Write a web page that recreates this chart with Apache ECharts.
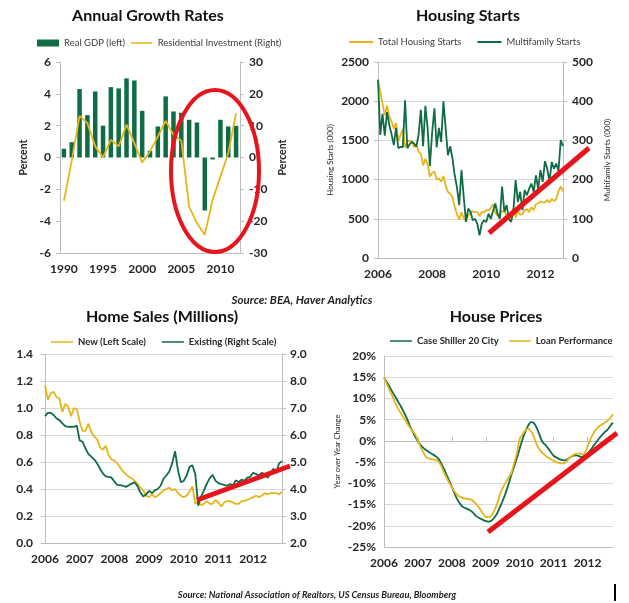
<!DOCTYPE html>
<html>
<head>
<meta charset="utf-8">
<script src="https://cdn.jsdelivr.net/npm/echarts@6/dist/echarts.min.js"></script>
<style>
  html, body { margin: 0; padding: 0; background: #fff; }
  #main { width: 629px; height: 603px; }
</style>
</head>
<body>
<div id="main"></div>
<script>
var green = '#0f6c45';
var gold = '#e6b51a';
var axisGray = '#bdbdbd';
var gridGray = '#d9d9d9';
var red = '#e8141c';
var font = 'Lato, "Open Sans", sans-serif';

// annual growth rates (percent)
var years = ['1990', '1991', '1992', '1993', '1994', '1995', '1996', '1997', '1998', '1999', '2000', '2001',
  '2002', '2003', '2004', '2005', '2006', '2007', '2008', '2009', '2010', '2011', '2012'];
var realGdp = [0.55, 0.96, 4.3, 2.66, 4.15, 2.0, 4.42, 4.34, 4.97, 4.84, 2.93, 0.42,
  1.95, 3.84, 2.89, 2.81, 2.37, 2.2, -3.33, -0.12, 2.37, 1.95, 1.99];
var resInvest = [-13.6, -1.0, 13.1, 10.8, 3.5, 0.1, 5.5, 3.5, 10.3, 4.5, -1.6, 1.9,
  6.6, 11.5, 7.1, 5.3, -15.4, -20.6, -24.3, -13.3, -6.0, 1.4, 13.9];

// housing starts (000), Jan 2006 - Nov 2012
var totalStarts = [2273, 2119, 1969, 1821, 1942, 1802, 1737, 1650, 1720, 1491, 1570, 1649,
  1409, 1480, 1495, 1490, 1415, 1448, 1354, 1330, 1183, 1264, 1197, 1037,
  1084, 1103, 1005, 1013, 973, 1046, 923, 844, 820, 777, 652, 560,
  490, 582, 505, 478, 540, 585, 594, 586, 585, 534, 588, 581,
  614, 605, 634, 687, 583, 536, 546, 599, 594, 543, 545, 539,
  630, 517, 600, 554, 561, 608, 623, 585, 650, 610, 685, 699,
  720, 710, 707, 743, 708, 754, 728, 749, 854, 915, 851];
var multiStarts = [455, 314, 368, 312, 372, 340, 316, 288, 332, 280, 284, 282,
  402, 280, 290, 296, 292, 284, 315, 378, 285, 388, 330, 235,
  320, 382, 282, 332, 296, 400, 330, 262, 285, 254, 211, 180,
  135, 224, 156, 92, 126, 118, 96, 100, 88, 58, 88, 96,
  92, 113, 100, 120, 139, 113, 100, 182, 118, 135, 100, 92,
  120, 199, 143, 169, 122, 173, 160, 177, 190, 169, 211, 177,
  224, 194, 247, 228, 194, 245, 228, 241, 222, 301, 285];

// home sales (millions), Jan 2006 - Nov 2012
var newSales = [1.17, 1.06, 1.11, 1.12, 1.08, 1.07, 0.97, 1.03, 1.01, 0.94, 1.00, 0.99,
  0.90, 0.83, 0.83, 0.885, 0.82, 0.79, 0.77, 0.71, 0.69, 0.72, 0.65, 0.62,
  0.61, 0.59, 0.56, 0.53, 0.51, 0.49, 0.48, 0.46, 0.44, 0.41, 0.39, 0.35,
  0.34, 0.36, 0.34, 0.35, 0.37, 0.39, 0.40, 0.41, 0.39, 0.40, 0.37, 0.35,
  0.34, 0.35, 0.38, 0.42, 0.29, 0.31, 0.28, 0.29, 0.31, 0.29, 0.29, 0.32,
  0.30, 0.27, 0.30, 0.31, 0.31, 0.30, 0.29, 0.29, 0.31, 0.31, 0.32, 0.33,
  0.34, 0.35, 0.34, 0.35, 0.37, 0.36, 0.37, 0.37, 0.37, 0.36, 0.38];
var existingSales = [6.70, 6.82, 6.82, 6.74, 6.61, 6.55, 6.43, 6.33, 6.30, 6.31, 6.30, 6.35,
  5.80, 5.75, 5.50, 5.30, 5.20, 5.10, 4.95, 4.76, 4.58, 4.47, 4.45, 4.42,
  4.28, 4.15, 4.14, 4.12, 4.08, 4.14, 4.20, 4.25, 4.10, 3.88, 3.72, 3.80,
  3.93, 3.85, 3.95, 4.00, 4.12, 4.38, 4.50, 4.65, 4.95, 5.40, 4.70, 4.25,
  4.30, 4.50, 4.82, 4.88, 4.55, 3.38, 3.72, 3.95, 4.20, 4.40, 4.52, 4.30,
  4.22, 4.18, 4.15, 4.12, 4.18, 4.14, 4.32, 4.25, 4.35, 4.30, 4.42, 4.45,
  4.60, 4.55, 4.50, 4.60, 4.55, 4.42, 4.55, 4.75, 4.60, 4.95, 5.03];

// house prices, year over year %, Jan 2006 - Oct 2012
var caseShiller = [14.9, 13.8, 12.7, 11.5, 10.4, 9.2, 8.1, 6.8, 5.4, 3.8, 2.4, 1.0,
  -0.1, -1.0, -1.7, -2.2, -2.7, -3.1, -3.5, -4.0, -5.0, -6.3, -7.8, -9.3,
  -10.8, -12.5, -13.9, -14.9, -15.6, -15.9, -16.2, -16.6, -17.3, -17.9, -18.3, -18.6,
  -18.9, -19.0, -18.8, -18.1, -17.1, -15.6, -14.1, -12.3, -10.3, -8.1, -6.1, -4.1,
  -1.8, 0.4, 2.2, 3.6, 4.4, 4.2, 3.1, 1.4, -0.2, -0.9, -1.7, -2.6,
  -3.5, -3.9, -4.3, -4.5, -4.6, -4.3, -3.8, -3.5, -3.4, -3.6, -3.8, -3.4,
  -3.0, -2.2, -1.3, -0.4, 0.5, 1.3, 2.0, 2.6, 3.5, 4.3];
var loanPerf = [14.9, 13.4, 11.9, 10.5, 8.9, 7.6, 6.5, 5.4, 4.4, 3.3, 2.4, 1.6,
  0.1, -1.5, -2.8, -3.9, -4.2, -4.3, -4.5, -4.7, -5.6, -7.1, -8.5, -9.8,
  -10.9, -12.0, -12.8, -13.2, -13.5, -13.6, -13.7, -13.9, -14.5, -15.2, -16.1, -17.1,
  -17.9, -18.0, -17.6, -16.4, -14.9, -12.6, -11.1, -9.9, -8.7, -7.6, -5.3, -2.9,
  0.4, 1.5, 2.5, 2.9, 2.3, 1.0, -0.8, -2.0, -2.8, -3.4, -3.9, -4.3,
  -4.7, -5.0, -5.2, -5.3, -5.2, -4.5, -3.8, -3.3, -3.0, -3.0, -3.2, -2.9,
  -1.3, 0.3, 1.7, 2.7, 3.4, 3.8, 4.3, 4.7, 5.4, 6.3];

function monthList(n) {
  var out = [];
  for (var i = 0; i < n; i++) {
    out.push((2006 + Math.floor(i / 12)) + '-' + ('0' + (i % 12 + 1)).slice(-2));
  }
  return out;
}
var startMonths = monthList(totalStarts.length);
var salesMonths = monthList(newSales.length);
var priceMonths = monthList(caseShiller.length);

var tickText = { fontFamily: font, fontWeight: 'bold', fontSize: 12, color: '#262626' };
// thin line legend icon (empty corner points keep the bounding box tall)
var lineIcon = 'path://M0,0L0,0Z M0,3.1h24v1.8h-24z M0,8L0,8Z';

function yearAxis(gridIndex, data, step, boundary) {
  return {
    type: 'category', gridIndex: gridIndex, data: data, boundaryGap: boundary,
    axisLine: { onZero: false, lineStyle: { color: axisGray } },
    axisTick: { show: false },
    axisLabel: Object.assign({
      interval: function (i) { return i % step === 0; },
      formatter: function (v) { return v.slice(0, 4); },
      margin: 10, hideOverlap: false
    }, tickText)
  };
}

function valueAxis(gridIndex, pos, min, max, step, opts) {
  var ax = {
    type: 'value', gridIndex: gridIndex, position: pos, min: min, max: max, interval: step,
    axisLine: { show: true, lineStyle: { color: axisGray } },
    axisTick: { show: true, length: 4, lineStyle: { color: axisGray } },
    splitLine: { show: false },
    axisLabel: Object.assign({ margin: 9, formatter: function (v) { return String(v); } }, tickText),
    nameLocation: 'middle',
    nameRotate: 90
  };
  return Object.assign(ax, opts || {});
}

function lineSeries(name, xi, yi, data, color, smooth) {
  return {
    name: name, type: 'line', xAxisIndex: xi, yAxisIndex: yi, data: data,
    symbol: 'none', smooth: smooth || false,
    lineStyle: { color: color, width: 1.8 }, itemStyle: { color: color }
  };
}

var legendText = { fontFamily: font, fontSize: 9.5, color: '#404040' };
var legendBold = { fontFamily: font, fontSize: 9.5, color: '#262626', fontWeight: 'bold' };
var titleText = { fontFamily: font, fontWeight: 'bold', fontSize: 16, color: '#111' };

var chart = echarts.init(document.getElementById('main'), null, { renderer: 'canvas' });

var option = {
  backgroundColor: '#fff',
  animation: false,
  title: [
    { text: 'Annual Growth Rates', left: 148, top: 8, textAlign: 'center', padding: 0, textStyle: titleText },
    { text: 'Housing Starts', left: 468, top: 8, textAlign: 'center', padding: 0, textStyle: titleText },
    { text: 'Home Sales (Millions)', left: 162, top: 309, textAlign: 'center', padding: 0, textStyle: titleText },
    { text: 'House Prices', left: 496, top: 309, textAlign: 'center', padding: 0, textStyle: titleText }
  ],
  legend: [
    { data: [{ name: 'Real GDP (left)', icon: 'rect' }, { name: 'Residential Investment (Right)', icon: lineIcon }],
      left: 37, top: 38, padding: 0, itemWidth: 22, itemHeight: 7, itemGap: 6, textStyle: legendText },
    { data: [{ name: 'Total Housing Starts', icon: lineIcon }, { name: 'Multifamily Starts', icon: lineIcon }],
      left: 349, top: 37, padding: 0, itemWidth: 24, itemHeight: 8, itemGap: 16, textStyle: legendText },
    { data: [{ name: 'New (Left Scale)', icon: lineIcon }, { name: 'Existing (Right Scale)', icon: lineIcon }],
      left: 51, top: 337, padding: 0, itemWidth: 22, itemHeight: 8, itemGap: 16, textStyle: legendBold },
    { data: [{ name: 'Case Shiller 20 City', icon: lineIcon }, { name: 'Loan Performance', icon: lineIcon }],
      left: 390, top: 336, padding: 0, itemWidth: 22, itemHeight: 8, itemGap: 10, textStyle: legendBold }
  ],
  grid: [
    { left: 60, top: 62, width: 180, height: 191 },
    { left: 378, top: 62, width: 185, height: 196 },
    { left: 45, top: 354, width: 237, height: 189 },
    { left: 384, top: 356, width: 229, height: 191 }
  ],
  xAxis: [
    yearAxis(0, years, 5, true),
    yearAxis(1, startMonths, 24, false),
    yearAxis(2, salesMonths, 12, false),
    yearAxis(3, priceMonths, 12, false),
    {
      type: 'category', gridIndex: 3, data: priceMonths, boundaryGap: false,
      axisLine: { onZero: true, lineStyle: { color: '#bfbfbf' } },
      axisTick: { show: true, length: 4, interval: function (i) { return i % 12 === 0 && i > 0; },
        lineStyle: { color: '#bfbfbf' } },
      axisLabel: { show: false }
    }
  ],
  yAxis: [
    valueAxis(0, 'left', -6, 6, 2, { name: 'Percent', nameGap: 31,
      nameTextStyle: { fontFamily: font, fontWeight: 'bold', fontSize: 10.5, color: '#262626' } }),
    valueAxis(0, 'right', -30, 30, 10, { name: 'Percent', nameGap: 37,
      nameTextStyle: { fontFamily: font, fontWeight: 'bold', fontSize: 10.5, color: '#262626' } }),
    valueAxis(1, 'left', 0, 2500, 500, { name: 'Housing Starts (000)', nameGap: 44,
      splitLine: { show: true, lineStyle: { color: gridGray } },
      nameTextStyle: { fontFamily: font, fontSize: 8, color: '#262626' } }),
    valueAxis(1, 'right', 0, 500, 100, { name: 'Multifamily Starts (000)', nameGap: 40,
      nameTextStyle: { fontFamily: font, fontSize: 8, color: '#262626' } }),
    valueAxis(2, 'left', 0, 1.4, 0.2, {
      splitLine: { show: true, lineStyle: { color: gridGray } },
      axisLabel: Object.assign({ margin: 12, formatter: function (v) { return v.toFixed(1); } }, tickText) }),
    valueAxis(2, 'right', 2, 9, 1, {
      axisLabel: Object.assign({ margin: 8, formatter: function (v) { return v.toFixed(1); } }, tickText) }),
    valueAxis(3, 'left', -25, 20, 5, { name: 'Year over Year Change', nameGap: 42,
      axisTick: { show: false },
      splitLine: { show: true, lineStyle: { color: gridGray } },
      axisLabel: Object.assign({ margin: 8, formatter: '{value}%' }, tickText),
      nameTextStyle: { fontFamily: font, fontSize: 7.5, color: '#262626' } })
  ],
  series: [
    { name: 'Real GDP (left)', type: 'bar', xAxisIndex: 0, yAxisIndex: 0, data: realGdp,
      barWidth: 4.5, itemStyle: { color: green } },
    lineSeries('Residential Investment (Right)', 0, 1, resInvest, gold),
    lineSeries('Total Housing Starts', 1, 2, totalStarts, gold),
    lineSeries('Multifamily Starts', 1, 3, multiStarts, green),
    lineSeries('New (Left Scale)', 2, 4, newSales, gold),
    lineSeries('Existing (Right Scale)', 2, 5, existingSales, green),
    lineSeries('Case Shiller 20 City', 3, 6, caseShiller, green, 0.4),
    lineSeries('Loan Performance', 3, 6, loanPerf, gold, 0.4)
  ],
  graphic: [
    { type: 'text', x: 302, y: 300, style: { text: 'Source: BEA, Haver Analytics', align: 'center',
      verticalAlign: 'middle', font: 'italic bold 11.5px ' + font, fill: '#222' } },
    { type: 'text', x: 317, y: 595, style: { text: 'Source: National Association of Realtors, US Census Bureau, Bloomberg',
      align: 'center', verticalAlign: 'middle', font: 'italic bold 9.3px ' + font, fill: '#222' } },
    { type: 'ellipse', shape: { cx: 215, cy: 171, rx: 44, ry: 81 }, z: 100,
      style: { fill: 'none', stroke: red, lineWidth: 4 } },
    { type: 'line', shape: { x1: 489, y1: 233, x2: 589, y2: 148 }, z: 100,
      style: { stroke: red, lineWidth: 5 } },
    { type: 'line', shape: { x1: 197, y1: 500, x2: 290, y2: 466 }, z: 100,
      style: { stroke: red, lineWidth: 5 } },
    { type: 'line', shape: { x1: 488, y1: 532, x2: 617, y2: 433 }, z: 100,
      style: { stroke: red, lineWidth: 5 } },
    { type: 'rect', shape: { x: 614, y: 584, width: 2, height: 17 }, style: { fill: '#000' } }
  ]
};

chart.setOption(option);
</script>
</body>
</html>
